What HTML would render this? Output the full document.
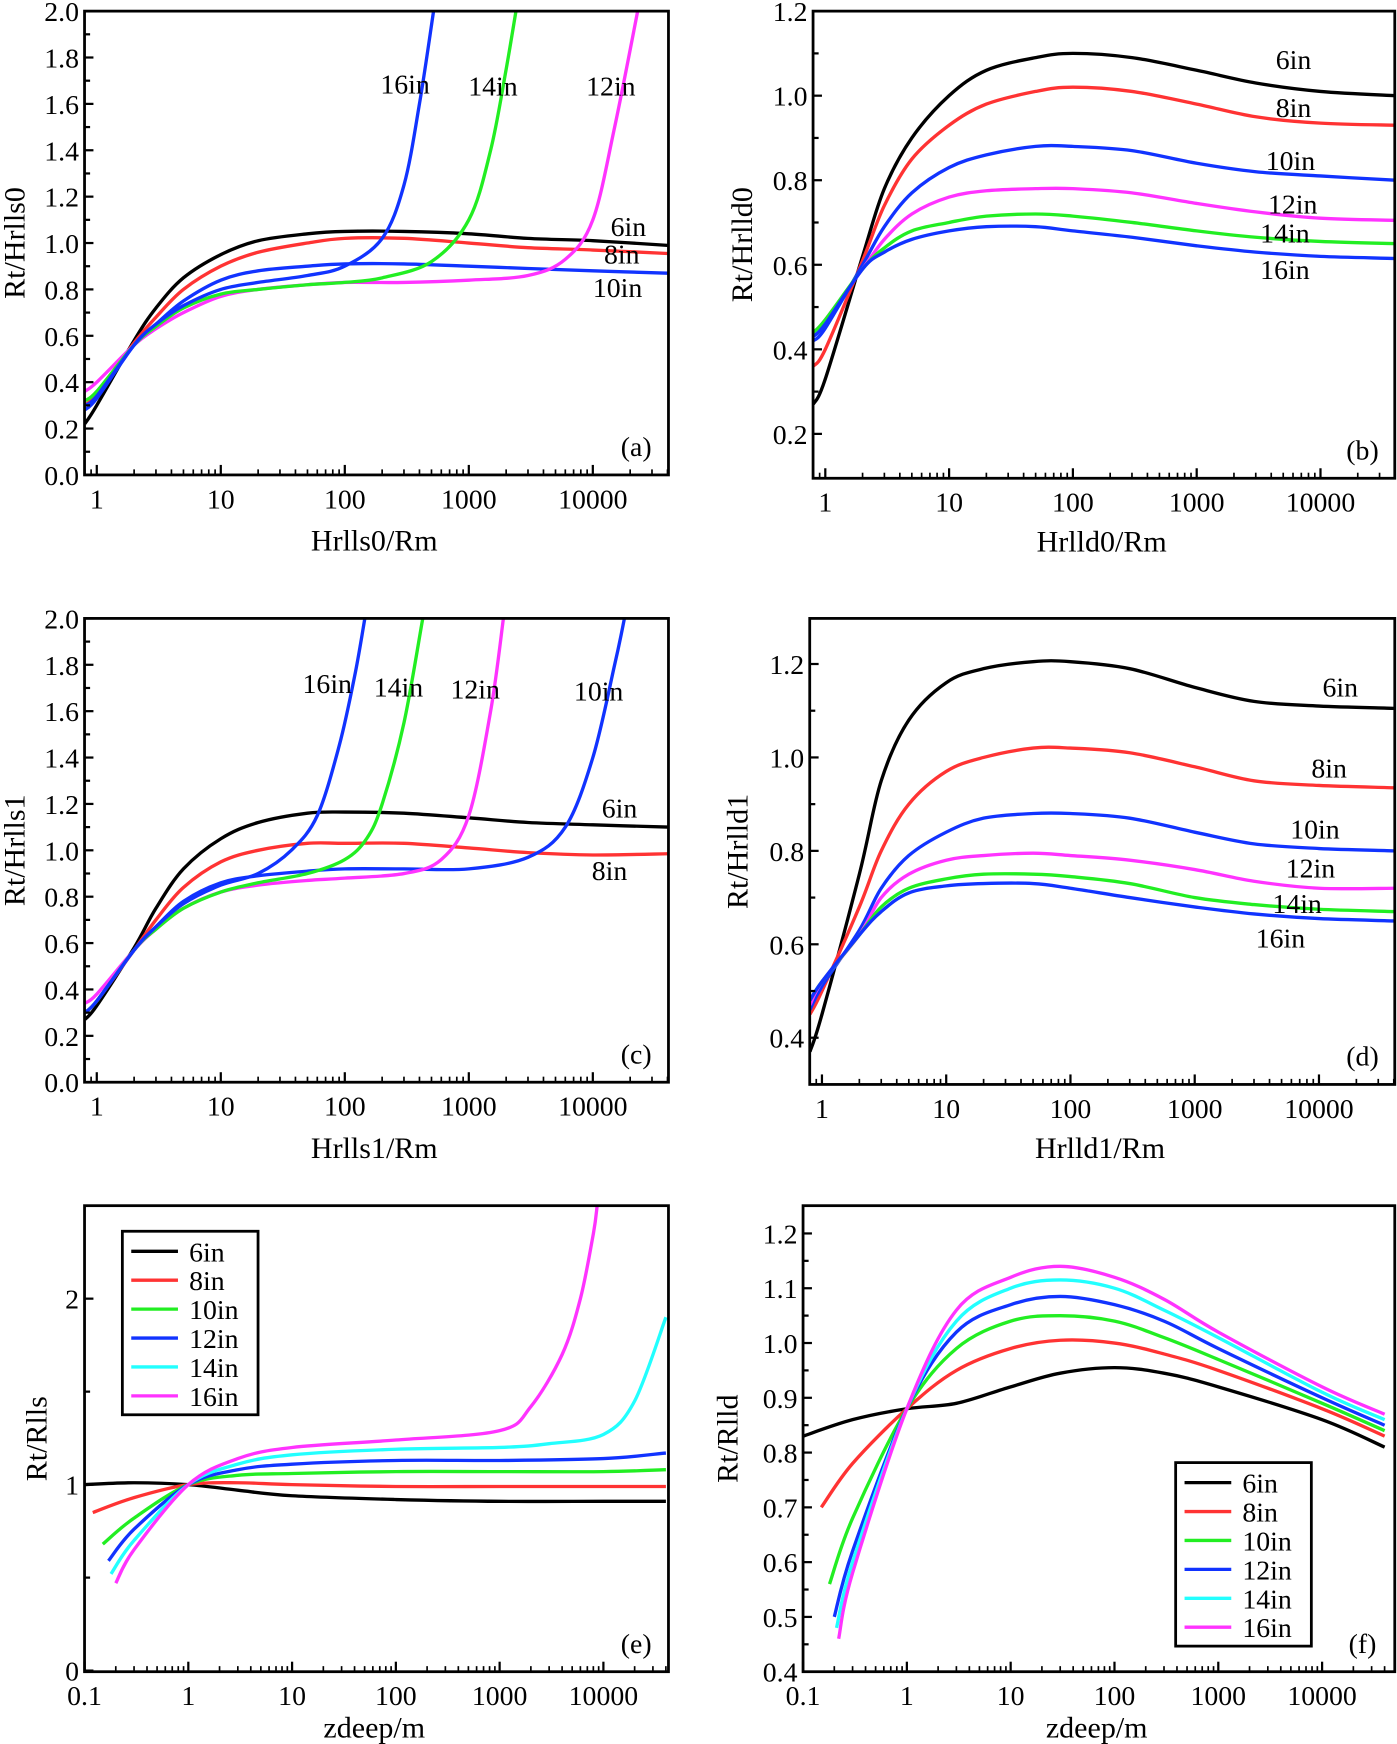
<!DOCTYPE html>
<html><head><meta charset="utf-8">
<style>
html,body{margin:0;padding:0;background:#fff;}
svg{display:block;}
text{font-family:"Liberation Serif",serif;fill:#000;}
</style></head>
<body>
<svg id="fig" width="1397" height="1744" viewBox="0 0 1256 1568" xmlns="http://www.w3.org/2000/svg"></svg>
<script>
// ---------- data ----------
const xA = [0.8,1,2,3,5,10,20,50,100,300,1000,3000,10000,40000];
const aBlack6 = [0.22,0.3,0.58,0.72,0.85,0.95,1.01,1.04,1.05,1.05,1.04,1.02,1.01,0.99];
const aRed8 = [0.3,0.35,0.57,0.68,0.8,0.9,0.96,1.0,1.02,1.02,1.0,0.98,0.97,0.955];
const aBlue10 = [0.28,0.33,0.56,0.65,0.75,0.84,0.88,0.9,0.91,0.91,0.9,0.89,0.88,0.87];
const aX12 = [0.8,1,2,3,5,10,20,50,100,300,1000,3000,6000,10000,15000,23000];
const aMag12 = [0.36,0.4,0.56,0.63,0.7,0.77,0.8,0.82,0.83,0.83,0.84,0.86,0.93,1.1,1.5,2.0];
const aX14 = [0.8,1,2,3,5,10,20,50,100,200,500,1000,1500,2000,2400];
const aGreen14 = [0.32,0.36,0.56,0.64,0.72,0.78,0.8,0.82,0.83,0.85,0.92,1.1,1.4,1.75,2.0];
const aX16 = [0.8,1,2,3,5,10,20,50,100,200,300,400,520];
const aBlue16 = [0.3,0.34,0.56,0.65,0.73,0.8,0.83,0.86,0.9,1.02,1.25,1.6,2.0];

const bBlack6 = [0.27,0.33,0.62,0.78,0.9,1.0,1.06,1.09,1.1,1.09,1.06,1.03,1.01,1.0];
const bRed8 = [0.36,0.4,0.61,0.74,0.85,0.93,0.98,1.01,1.02,1.01,0.98,0.95,0.935,0.93];
const bBlue10 = [0.42,0.45,0.6,0.69,0.77,0.83,0.86,0.88,0.88,0.87,0.84,0.82,0.81,0.80];
const bMag12 = [0.44,0.47,0.59,0.66,0.72,0.76,0.775,0.78,0.78,0.77,0.745,0.725,0.71,0.705];
const bGreen14 = [0.44,0.47,0.59,0.64,0.68,0.70,0.715,0.72,0.715,0.7,0.68,0.665,0.655,0.65];
const bBlue16 = [0.43,0.46,0.59,0.63,0.66,0.68,0.69,0.69,0.68,0.665,0.645,0.63,0.62,0.615];

const cBlack6 = [0.27,0.33,0.58,0.75,0.92,1.05,1.12,1.16,1.165,1.16,1.14,1.12,1.11,1.1];
const cRed8 = [0.3,0.35,0.57,0.7,0.84,0.95,1.0,1.03,1.03,1.03,1.01,0.99,0.98,0.985];
const cX10 = [0.8,1,2,3,5,10,20,50,100,300,1000,3000,6000,10000,15000,18000];
const cBlue10 = [0.3,0.35,0.57,0.67,0.78,0.86,0.89,0.91,0.92,0.92,0.92,0.97,1.1,1.4,1.8,2.0];
const cX12 = [0.8,1,2,3,5,10,20,50,100,300,600,1000,1500,1900];
const cMag12 = [0.34,0.38,0.57,0.66,0.75,0.82,0.85,0.87,0.88,0.9,0.96,1.15,1.6,2.0];
const cX14 = [0.8,1,2,3,5,10,20,50,100,150,200,300,425];
const cGreen14 = [0.3,0.35,0.57,0.66,0.75,0.82,0.86,0.9,0.96,1.05,1.2,1.55,2.0];
const cX16 = [0.8,1,2,3,5,10,20,37,60,90,120,145];
const cBlue16 = [0.3,0.35,0.57,0.67,0.77,0.85,0.9,1.0,1.15,1.45,1.75,2.0];

const dBlack6 = [0.37,0.45,0.75,0.95,1.08,1.16,1.19,1.205,1.205,1.19,1.15,1.12,1.11,1.105];
const dRed8 = [0.45,0.5,0.68,0.8,0.9,0.97,1.0,1.02,1.02,1.01,0.98,0.95,0.94,0.935];
const dBlue10 = [0.46,0.51,0.63,0.72,0.79,0.84,0.87,0.88,0.88,0.87,0.84,0.815,0.805,0.8];
const dMag12 = [0.47,0.52,0.62,0.7,0.75,0.78,0.79,0.795,0.79,0.78,0.76,0.735,0.72,0.72];
const dGreen14 = [0.48,0.52,0.62,0.68,0.72,0.74,0.75,0.75,0.745,0.73,0.7,0.685,0.675,0.67];
const dBlue16 = [0.48,0.52,0.62,0.67,0.71,0.725,0.73,0.73,0.72,0.7,0.68,0.665,0.655,0.65];

const eX6 = [0.1,0.3,1,3,10,100,1000,10000,40000];
const eBlack6 = [1.0,1.01,1.0,0.97,0.94,0.92,0.91,0.91,0.91];
const eX8 = [0.12,0.3,1,3,10,100,1000,10000,40000];
const eRed8 = [0.85,0.93,1.0,1.01,1.0,0.99,0.99,0.99,0.99];
const eX10 = [0.15,0.3,1,3,10,100,1000,10000,40000];
const eGreen10 = [0.68,0.82,1.0,1.05,1.06,1.07,1.07,1.07,1.08];
const eX12 = [0.17,0.3,1,3,10,100,1000,10000,40000];
const eBlue12 = [0.59,0.76,1.0,1.08,1.11,1.13,1.13,1.14,1.17];
const eX14 = [0.18,0.3,1,3,10,100,1000,3000,10000,20000,40000];
const eCyan14 = [0.52,0.7,1.0,1.11,1.16,1.19,1.2,1.22,1.27,1.45,1.9];
const eX16 = [0.2,0.3,1,3,10,100,1000,2000,4000,6000,8000,8700];
const eMag16 = [0.47,0.65,1.0,1.14,1.2,1.24,1.29,1.42,1.7,2.0,2.35,2.5];

const fXTail = [0.3,1,3,10,30,100,300,1000,10000,40000];
const fBlack6 = [0.83,0.86,0.88,0.89,0.92,0.945,0.955,0.945,0.92,0.86,0.81];
const fRed8 = [0.7,0.78,0.88,0.95,0.99,1.005,1.0,0.98,0.95,0.88,0.83];
const fGreen10 = [0.56,0.68,0.88,0.99,1.04,1.05,1.04,1.01,0.97,0.89,0.84];
const fBlue12 = [0.5,0.62,0.88,1.02,1.07,1.085,1.07,1.04,0.99,0.9,0.85];
const fCyan14 = [0.48,0.6,0.88,1.04,1.1,1.115,1.1,1.06,1.01,0.91,0.86];
const fMag16 = [0.46,0.58,0.88,1.06,1.12,1.14,1.12,1.08,1.02,0.92,0.87];
const fStart = [0.1,0.15,0.18,0.2,0.21,0.22];

const ticks02 = ["0.0","0.2","0.4","0.6","0.8","1.0","1.2","1.4","1.6","1.8","2.0"];
const ticksB = ["0.2","0.4","0.6","0.8","1.0","1.2"];
const ticksD = ["0.4","0.6","0.8","1.0","1.2"];
const ticksE = ["0","1","2"];
const ticksF = ["0.4","0.5","0.6","0.7","0.8","0.9","1.0","1.1","1.2"];
const xTicks1 = ["1","10","100","1000","10000"];
const xTicks01 = ["0.1","1","10","100","1000","10000"];
const legendNames = ["6in","8in","10in","12in","14in","16in"];

const C = {k:"#000",r:"#ff3333",g:"#22ee22",b:"#1133ff",m:"#ff33ff",c:"#22ffff"};
const NS = "http://www.w3.org/2000/svg";
const svg = document.getElementById("fig");
function mk(tag, attrs, parent){
  const e = document.createElementNS(NS, tag);
  for (const k in attrs) e.setAttribute(k, attrs[k]);
  (parent||svg).appendChild(e);
  return e;
}
function txt(s, x, y, size, anchor, parent){
  const t = mk("text", {x:x, y:y, "font-size":size, "text-anchor":anchor||"middle"}, parent);
  t.textContent = s;
  return t;
}
function smooth(pts){
  let d = "M"+pts[0][0].toFixed(1)+","+pts[0][1].toFixed(1);
  for (let i=0;i<pts.length-1;i++){
    const p0=pts[Math.max(0,i-1)], p1=pts[i], p2=pts[i+1], p3=pts[Math.min(pts.length-1,i+2)];
    const c1=[p1[0]+(p2[0]-p0[0])/6, p1[1]+(p2[1]-p0[1])/6];
    const c2=[p2[0]-(p3[0]-p1[0])/6, p2[1]-(p3[1]-p1[1])/6];
    d += " C"+c1[0].toFixed(1)+","+c1[1].toFixed(1)+" "+c2[0].toFixed(1)+","+c2[1].toFixed(1)+" "+p2[0].toFixed(1)+","+p2[1].toFixed(1);
  }
  return d;
}
let clipId = 0;
function panel(cfg){
  const g = mk("g", {});
  
  
  const X = v => cfg.x0 + (Math.log10(v)-cfg.lmin)/(cfg.lmax-cfg.lmin)*(cfg.x1-cfg.x0);
  const Y = v => cfg.y1 - (v-cfg.ymin)/(cfg.ymax-cfg.ymin)*(cfg.y1-cfg.y0);
  const id = "clip"+(clipId++);
  const cp = mk("clipPath", {id:id}, g);
  mk("rect", {x:cfg.x0, y:cfg.y0, width:cfg.x1-cfg.x0, height:cfg.y1-cfg.y0}, cp);
  const sg = mk("g", {"clip-path":"url(#"+id+")"}, g);
  cfg.series.forEach(s=>{
    const pts = s.x.map((xv,i)=>[X(xv), Y(s.y[i])]);
    const p = mk("path", {d:smooth(pts), fill:"none", stroke:s.c, "stroke-width":3, "stroke-linejoin":"round"}, sg);
    
    
  });
  const frame = mk("rect", {x:cfg.x0, y:cfg.y0, width:cfg.x1-cfg.x0, height:cfg.y1-cfg.y0, fill:"none", stroke:"#000", "stroke-width":2.5}, g);
  
  
  const yt = mk("g", {}, g);
  
  
  cfg.yticks.forEach((lab,i)=>{
    const v = parseFloat(lab);
    const y = Y(v);
    mk("line", {x1:cfg.x0, x2:cfg.x0+8, y1:y, y2:y, stroke:"#000","stroke-width":2}, yt);
    txt(lab, cfg.x0-5, y+9, 25, "end", yt);
    if (i<cfg.yticks.length-1){
      const ym = Y((v+parseFloat(cfg.yticks[i+1]))/2);
      mk("line", {x1:cfg.x0, x2:cfg.x0+5, y1:ym, y2:ym, stroke:"#000","stroke-width":2}, yt);
    }
  });
  const xt = mk("g", {}, g);
  
  
  cfg.xticks.forEach(lab=>{
    const v = parseFloat(lab);
    const x = X(v);
    mk("line", {x1:x, x2:x, y1:cfg.y1, y2:cfg.y1-9, stroke:"#000","stroke-width":2}, xt);
    txt(lab, x, cfg.y1+30, 25, "middle", xt);
    for (let k=2;k<10;k++){
      const xm = X(v*k);
      if (xm<cfg.x1) mk("line", {x1:xm, x2:xm, y1:cfg.y1, y2:cfg.y1-5, stroke:"#000","stroke-width":1.5}, xt);
    }
  });
  if (cfg.xticks.length){ const v0=parseFloat(cfg.xticks[0])/10; for(let k=2;k<10;k++){const xm=X(v0*k); if(xm>cfg.x0) mk("line",{x1:xm,x2:xm,y1:cfg.y1,y2:cfg.y1-5,stroke:"#000","stroke-width":1.5},xt);} }
  const xl = txt(cfg.xlabel, (cfg.x0+cfg.x1)/2-2, cfg.y1+cfg.xlo, 27, "middle", g);
  
  
  const yc = (cfg.y0+cfg.y1)/2;
  const yl = mk("text", {x:cfg.ylx, y:yc, "font-size":27, "text-anchor":"middle", transform:"rotate(-90 "+cfg.ylx+" "+yc+")"}, g);
  yl.textContent = cfg.ylabel;
  
  
  const tg = txt("("+cfg.tag+")", cfg.x1-29, cfg.y1-17, 25, "middle", g);
  
  
  (cfg.labels||[]).forEach(l=>{
    const t = txt(l[0], l[1], l[2], 25, "start", g);
    
    
  });
  if (cfg.legend){
    const L = cfg.legend;
    const lg = mk("g", {}, g);
    
    
    mk("rect", {x:L.x, y:L.y, width:122, height:165, fill:"#fff", stroke:"#000","stroke-width":2.5}, lg);
    legendNames.forEach((n,i)=>{
      const yy = L.y+18+i*26;
      const e = mk("g", {}, lg);
      
      
      mk("line", {x1:L.x+8, x2:L.x+50, y1:yy, y2:yy, stroke:L.colors[i], "stroke-width":3}, e);
      txt(n, L.x+60, yy+9, 25, "start", e);
    });
  }
}

const fX = s => [s].concat(fXTail);

panel({tag:"a", x0:76,y0:10,x1:601,y1:427, lmin:-0.0987,lmax:4.61, ymin:0,ymax:2, xlo:68,
  yticks:ticks02, xticks:xTicks1, xlabel:"Hrlls0/Rm", ylabel:"Rt/Hrlls0", ylx:22,
  series:[{n:"6in",x:xA,y:aBlack6,c:C.k},{n:"8in",x:xA,y:aRed8,c:C.r},{n:"10in",x:xA,y:aBlue10,c:C.b},
          {n:"12in",x:aX12,y:aMag12,c:C.m},{n:"14in",x:aX14,y:aGreen14,c:C.g},{n:"16in",x:aX16,y:aBlue16,c:C.b}],
  labels:[["16in",342,84],["14in",421,86],["12in",527,86],["6in",549,212],["8in",543,237],["10in",533,267]]});

panel({tag:"b", x0:731,y0:10,x1:1254,y1:430, lmin:-0.0989,lmax:4.60, ymin:0.095,ymax:1.2, xlo:66,
  yticks:ticksB, xticks:xTicks1, xlabel:"Hrlld0/Rm", ylabel:"Rt/Hrlld0", ylx:676,
  series:[{n:"6in",x:xA,y:bBlack6,c:C.k},{n:"8in",x:xA,y:bRed8,c:C.r},{n:"10in",x:xA,y:bBlue10,c:C.b},
          {n:"12in",x:xA,y:bMag12,c:C.m},{n:"14in",x:xA,y:bGreen14,c:C.g},{n:"16in",x:xA,y:bBlue16,c:C.b}],
  labels:[["6in",1147,62],["8in",1147,105],["10in",1138,153],["12in",1140,192],["14in",1133,218],["16in",1133,251]]});

panel({tag:"c", x0:76,y0:556,x1:601,y1:973, lmin:-0.0987,lmax:4.61, ymin:0,ymax:2, xlo:68,
  yticks:ticks02, xticks:xTicks1, xlabel:"Hrlls1/Rm", ylabel:"Rt/Hrlls1", ylx:22,
  series:[{n:"6in",x:xA,y:cBlack6,c:C.k},{n:"8in",x:xA,y:cRed8,c:C.r},{n:"10in",x:cX10,y:cBlue10,c:C.b},
          {n:"12in",x:cX12,y:cMag12,c:C.m},{n:"14in",x:cX14,y:cGreen14,c:C.g},{n:"16in",x:cX16,y:cBlue16,c:C.b}],
  labels:[["16in",272,623],["14in",336,626],["12in",405,628],["10in",516,630],["6in",541,735],["8in",532,791]]});

panel({tag:"d", x0:728,y0:556,x1:1254,y1:975, lmin:-0.0984,lmax:4.61, ymin:0.3,ymax:1.2976, xlo:66,
  yticks:ticksD, xticks:xTicks1, xlabel:"Hrlld1/Rm", ylabel:"Rt/Hrlld1", ylx:672,
  series:[{n:"6in",x:xA,y:dBlack6,c:C.k},{n:"8in",x:xA,y:dRed8,c:C.r},{n:"10in",x:xA,y:dBlue10,c:C.b},
          {n:"12in",x:xA,y:dMag12,c:C.m},{n:"14in",x:xA,y:dGreen14,c:C.g},{n:"16in",x:xA,y:dBlue16,c:C.b}],
  labels:[["6in",1189,626],["8in",1179,699],["10in",1160,754],["12in",1156,789],["14in",1144,821],["16in",1129,852]]});

panel({tag:"e", x0:76,y0:1084,x1:601,y1:1503, lmin:-1,lmax:4.627, ymin:-0.006,ymax:2.5, xlo:59,
  yticks:ticksE, xticks:xTicks01, xlabel:"zdeep/m", ylabel:"Rt/Rlls", ylx:42,
  series:[{n:"6in",x:eX6,y:eBlack6,c:C.k},{n:"8in",x:eX8,y:eRed8,c:C.r},{n:"10in",x:eX10,y:eGreen10,c:C.g},
          {n:"12in",x:eX12,y:eBlue12,c:C.b},{n:"14in",x:eX14,y:eCyan14,c:C.c},{n:"16in",x:eX16,y:eMag16,c:C.m}],
  legend:{x:110,y:1107,colors:[C.k,C.r,C.g,C.b,C.c,C.m]}});

panel({tag:"f", x0:722,y0:1084,x1:1254,y1:1503, lmin:-1,lmax:4.70, ymin:0.4,ymax:1.2507, xlo:59,
  yticks:ticksF, xticks:xTicks01, xlabel:"zdeep/m", ylabel:"Rt/Rlld", ylx:663,
  series:[{n:"6in",x:fX(fStart[0]),y:fBlack6,c:C.k},{n:"8in",x:fX(fStart[1]),y:fRed8,c:C.r},{n:"10in",x:fX(fStart[2]),y:fGreen10,c:C.g},
          {n:"12in",x:fX(fStart[3]),y:fBlue12,c:C.b},{n:"14in",x:fX(fStart[4]),y:fCyan14,c:C.c},{n:"16in",x:fX(fStart[5]),y:fMag16,c:C.m}],
  legend:{x:1057,y:1315,colors:[C.k,C.r,C.g,C.b,C.c,C.m]}});
</script>
</body></html>
